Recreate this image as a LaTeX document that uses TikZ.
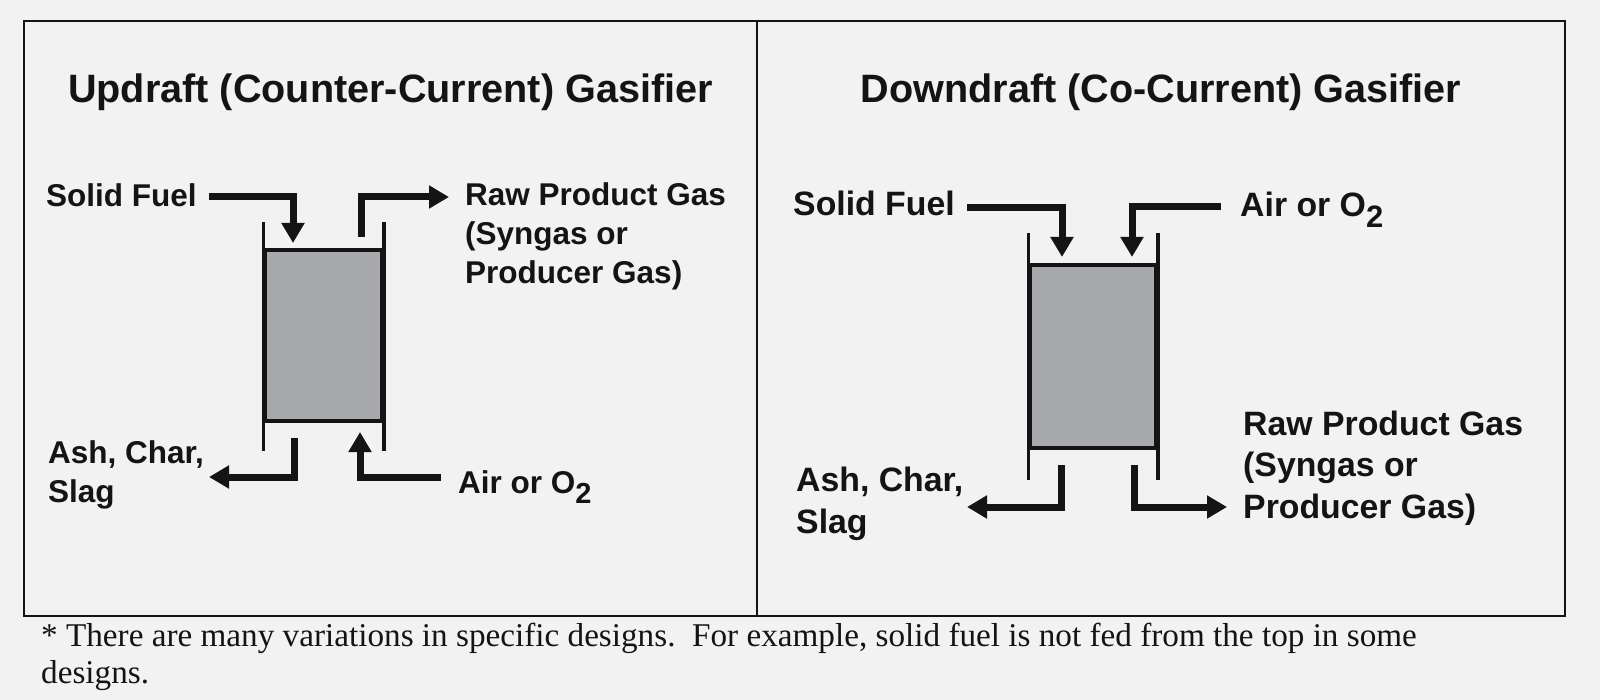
\documentclass[tikz,border=0pt]{standalone}
\usepackage{fontspec}
\setmainfont{Liberation Sans}
\newfontfamily\notefont{Liberation Serif}
\usetikzlibrary{arrows.meta}
\definecolor{bgc}{RGB}{242,242,242}
\definecolor{vesselfill}{RGB}{168,169,173}
\definecolor{ink}{RGB}{20,20,20}
\begin{document}
\begin{tikzpicture}[x=1pt,y=-1pt,
  framestyle/.style={draw=ink, line width=2pt},
  title/.style={anchor=base, inner sep=0pt, text=ink, font=\fontsize{39.6}{48}\selectfont\bfseries},
  lblL/.style={anchor=base west, inner sep=0pt, align=left, text=ink, font=\fontsize{31.5}{39}\selectfont\bfseries},
  lblR/.style={anchor=base west, inner sep=0pt, align=left, text=ink, font=\fontsize{33.8}{41.5}\selectfont\bfseries},
  vessel/.style={draw=ink, fill=vesselfill, line width=3.5pt, inner sep=0pt},
  wall/.style={draw=ink, line width=3.5pt},
  flow/.style={draw=ink, line width=7pt, line join=miter, -{Triangle[length=20pt,width=22pt]}},
  note/.style={anchor=base west, inner sep=0pt, align=left, text=ink, font=\notefont\fontsize{33.2}{37}\selectfont}
]
\useasboundingbox (0,0) rectangle (1600,700);
\fill[bgc] (0,0) rectangle (1600,700);

% frame
\draw[framestyle] (24,21) rectangle (1565,616);
\draw[framestyle] (757,21) -- (757,616);

% titles
\node[title] (tL) at (390.5,103) {Updraft (Counter-Current) Gasifier};
\node[title] (tR) at (1161,103) {Downdraft (Co-Current) Gasifier};

% ---------- left: updraft ----------
\node[vessel, minimum width=117pt, minimum height=171pt] (vesL) at (323.5,335.5) {};
\draw[wall] ([yshift=26pt]vesL.north west) -- ([yshift=-28pt]vesL.south west);
\draw[wall] ([yshift=26pt]vesL.north east) -- ([yshift=-28pt]vesL.south east);

\node[lblL] (sfL) at (46,207) {Solid Fuel};
\node[lblL] (gasL) at (465,284) {Raw Product Gas\\(Syngas or\\Producer Gas)};
\node[lblL] (ashL) at (48,502) {Ash, Char,\\Slag};
\node[lblL] (airL) at (458,493) {Air or O\raisebox{-0.32em}{\fontsize{29}{30}\selectfont 2}};

\coordinate (sfLs) at (209,197);  \coordinate (sfLt) at (293,243);
\coordinate (gasLs) at (361,237); \coordinate (gasLt) at (449,197);
\coordinate (ashLs) at (294,438); \coordinate (ashLt) at (209,477);
\coordinate (airLs) at (441,477); \coordinate (airLt) at (360,432);

\draw[flow] (sfLs) -| (sfLt);
\draw[flow] (gasLs) |- (gasLt);
\draw[flow] (ashLs) |- (ashLt);
\draw[flow] (airLs) -| (airLt);

% ---------- right: downdraft ----------
\node[vessel, minimum width=126pt, minimum height=183pt] (vesR) at (1093,356.5) {};
\draw[wall] ([yshift=30pt]vesR.north west) -- ([yshift=-30pt]vesR.south west);
\draw[wall] ([yshift=30pt]vesR.north east) -- ([yshift=-30pt]vesR.south east);

\node[lblR] (sfR) at (793,216) {Solid Fuel};
\node[lblR] (airR) at (1240,217) {Air or O\raisebox{-0.32em}{\fontsize{31}{32}\selectfont 2}};
\node[lblR] (ashR) at (796,533) {Ash, Char,\\Slag};
\node[lblR] (gasR) at (1243,518) {Raw Product Gas\\(Syngas or\\Producer Gas)};

\coordinate (sfRs) at (967,208);   \coordinate (sfRt) at (1062,257);
\coordinate (airRs) at (1221,207); \coordinate (airRt) at (1132,257);
\coordinate (ashRs) at (1061,465); \coordinate (ashRt) at (967,507);
\coordinate (gasRs) at (1134,465); \coordinate (gasRt) at (1227,507);

\draw[flow] (sfRs) -| (sfRt);
\draw[flow] (airRs) -| (airRt);
\draw[flow] (ashRs) |- (ashRt);
\draw[flow] (gasRs) |- (gasRt);

% footnote
\node[note] (fn) at (41,683) {* There are many variations in specific designs.\ \ For example, solid fuel is not fed from the top in some\\designs.};
\end{tikzpicture}
\end{document}
